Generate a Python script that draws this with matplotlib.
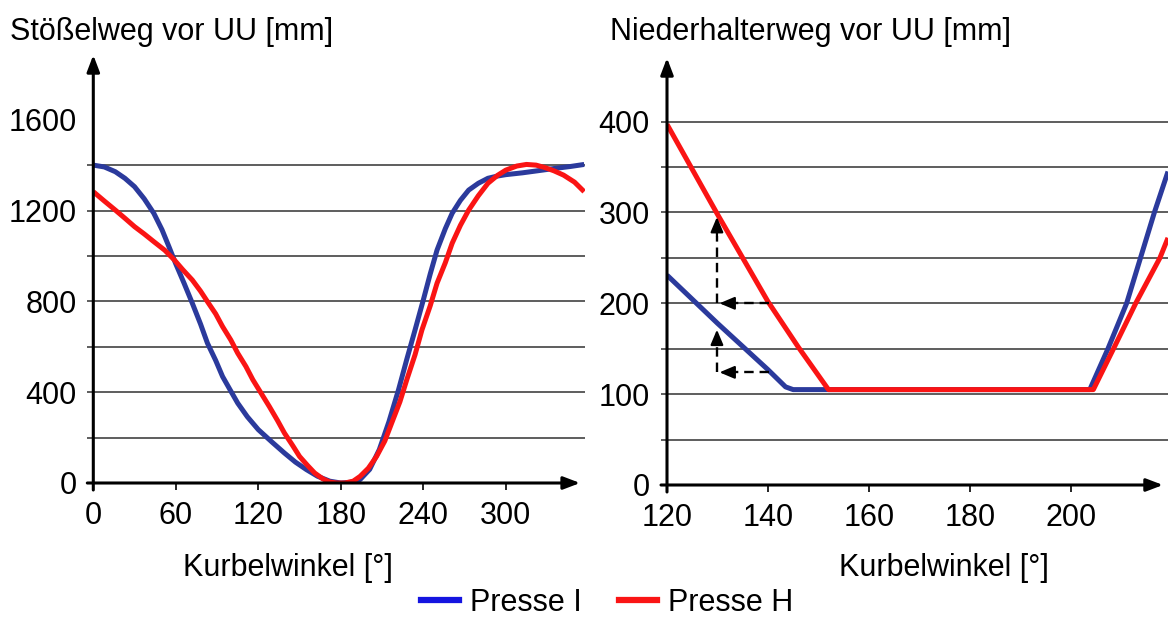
import matplotlib
matplotlib.use("Agg")
import matplotlib.pyplot as plt
from matplotlib.lines import Line2D

plt.rcParams['font.family'] = ['Liberation Sans', 'DejaVu Sans']

# Stößelweg (left panel): crank angle [deg] and stroke [mm]
ram_angle_i = [0, 8, 16, 23, 30, 37, 44, 50, 55, 60, 66, 72, 78, 83, 89, 94, 100, 105, 112,
               120, 130, 139, 147, 155, 163, 172, 180, 187, 194, 201, 208, 215, 222, 228, 234,
               240, 245, 250, 256, 261, 267, 273, 280, 287, 294, 300, 312, 323, 335, 347, 357]
ram_stroke_i = [1400, 1392, 1371, 1342, 1305, 1252, 1188, 1115, 1041, 965, 880, 792, 700, 616,
                540, 469, 405, 352, 292, 235, 180, 132, 92, 59, 30, 8, 0, 3, 15, 60, 147, 270,
                411, 545, 674, 806, 920, 1026, 1120, 1188, 1245, 1290, 1320, 1342, 1352, 1358,
                1366, 1375, 1385, 1394, 1403]
ram_angle_h = [0, 8, 16, 23, 30, 37, 44, 52, 59, 65, 72, 78, 83, 89, 94, 100, 105, 111, 116,
               122, 128, 134, 139, 145, 150, 156, 161, 167, 172, 177, 183, 189, 194, 200, 206,
               212, 217, 223, 228, 234, 239, 245, 250, 256, 261, 267, 273, 280, 287, 294, 300,
               308, 315, 322, 328, 335, 342, 350, 357]
ram_stroke_h = [1283, 1242, 1202, 1166, 1129, 1097, 1063, 1025, 982, 940, 894, 845, 799, 745,
                689, 630, 572, 513, 455, 396, 337, 275, 220, 165, 117, 76, 44, 18, 4, 0, 0, 8,
                29, 65, 117, 185, 264, 358, 455, 565, 674, 780, 880, 970, 1056, 1135, 1202,
                1265, 1320, 1355, 1378, 1396, 1403, 1400, 1390, 1375, 1356, 1325, 1283]

# Niederhalterweg (right panel)
bh_angle_i = [120, 130, 140, 143.5, 145, 152, 203.8, 207.4, 211.1, 216.6, 219.3]
bh_stroke_i = [231, 178, 127, 108, 105, 105, 105, 150, 200, 300, 345]
bh_angle_h = [120, 130, 140, 146, 152, 204.5, 208.5, 212.9, 217.7, 219.3]
bh_stroke_h = [397, 298, 202, 152, 105, 105, 150, 200, 250, 272]

# dashed helper arrows: (start, tip) in data units
hint_arrows = [((129.9, 200), (129.9, 295)),
               ((140.3, 200), (130.4, 200)),
               ((129.9, 124), (129.9, 171)),
               ((140.3, 124), (130.4, 124))]

left_ticks = [0, 400, 800, 1200, 1600]
left_grid = [200, 400, 600, 800, 1000, 1200, 1400]
left_xticks = [0, 60, 120, 180, 240, 300]
right_ticks = [0, 100, 200, 300, 400]
right_grid = [50, 100, 150, 200, 250, 300, 350, 400]
right_xticks = [120, 140, 160, 180, 200]

BLUE = '#2b3a9c'
RED = '#fa1414'
FS = 22
W, H = 1168, 618

fig = plt.figure(figsize=(W / 100, H / 100), dpi=100)


def px_axes(x0, x1, y_bottom, y_top):
    return fig.add_axes([x0 / W, 1 - y_bottom / H, (x1 - x0) / W, (y_bottom - y_top) / H])


def style_axes(ax, xlim, ylim, xticks, yticks, grid, ypad):
    ax.set_xlim(*xlim)
    ax.set_ylim(*ylim)
    for s in ax.spines.values():
        s.set_visible(False)
    ax.set_xticks(xticks)
    ax.set_yticks(yticks)
    ax.tick_params(axis='x', direction='out', length=5, width=1.2, color='k',
                   labelsize=FS, pad=8)
    ax.tick_params(axis='y', length=0, labelsize=FS, pad=ypad)
    bbox = ax.get_position()
    ext = 6 / (bbox.width * W)
    ax.hlines(grid, -ext, 1, transform=ax.get_yaxis_transform(), colors='#505050',
              linewidth=1.3, clip_on=False, zorder=1)
    arrow = dict(arrowstyle='-|>,head_length=1.0,head_width=0.38', color='k', lw=2.2,
                 shrinkA=0, shrinkB=0)
    ax.annotate('', xy=(0.99, 0), xytext=(-ext, 0), xycoords='axes fraction',
                textcoords='axes fraction', arrowprops=arrow, zorder=5)
    ext_y = 7 / (bbox.height * H)
    ax.annotate('', xy=(0, 1), xytext=(0, -ext_y), xycoords='axes fraction',
                textcoords='axes fraction', arrowprops=arrow, zorder=5)


ax1 = px_axes(93.3, 585, 483, 55)
style_axes(ax1, (0, 357.6), (0, 1885), left_xticks, left_ticks, left_grid, 12)
ax1.plot(ram_angle_i, ram_stroke_i, color=BLUE, lw=3.6, solid_capstyle='butt', zorder=3)
ax1.plot(ram_angle_h, ram_stroke_h, color=RED, lw=3.6, solid_capstyle='butt', zorder=4)

ax2 = px_axes(667, 1168, 485, 58)
style_axes(ax2, (120, 219.3), (0, 470), right_xticks, right_ticks, right_grid, 12.5)
ax2.plot(bh_angle_i, bh_stroke_i, color=BLUE, lw=3.6, solid_capstyle='butt', zorder=3)
ax2.plot(bh_angle_h, bh_stroke_h, color=RED, lw=3.6, solid_capstyle='butt', zorder=4)

for (x0, y0), (x1, y1) in hint_arrows:
    # dashed shaft, stopping short of the tip so the solid head sits on top
    fx = x0 + (x1 - x0) * 0.78
    fy = y0 + (y1 - y0) * 0.78
    ax2.plot([x0, fx], [y0, fy], color='k', lw=1.7, linestyle=(0, (4, 2.5)), zorder=5)
    ax2.annotate('', xy=(x1, y1), xytext=(fx, fy),
                 arrowprops=dict(arrowstyle='-|>,head_length=0.9,head_width=0.38',
                                 color='k', lw=1.6, shrinkA=0, shrinkB=0), zorder=6)

fig.text(10 / W, 1 - 32 / H, 'Stößelweg vor UU [mm]', fontsize=FS, ha='left', va='center')
fig.text(610 / W, 1 - 32 / H, 'Niederhalterweg vor UU [mm]', fontsize=FS, ha='left',
         va='center')
fig.text(288 / W, 1 - 568 / H, 'Kurbelwinkel [°]', fontsize=FS, ha='center', va='center')
fig.text(944 / W, 1 - 568 / H, 'Kurbelwinkel [°]', fontsize=FS, ha='center', va='center')

handles = [Line2D([], [], color='#1414e0', lw=4.5),
           Line2D([], [], color=RED, lw=4.5)]
fig.legend(handles, ['Presse I', 'Presse H'], loc='center', bbox_to_anchor=(607 / W, 1 - 603 / H),
           ncol=2, frameon=False, fontsize=FS, handlelength=1.25, handletextpad=0.36,
           columnspacing=1.2, borderpad=0, borderaxespad=0)

fig.savefig('out.png', dpi=100)
